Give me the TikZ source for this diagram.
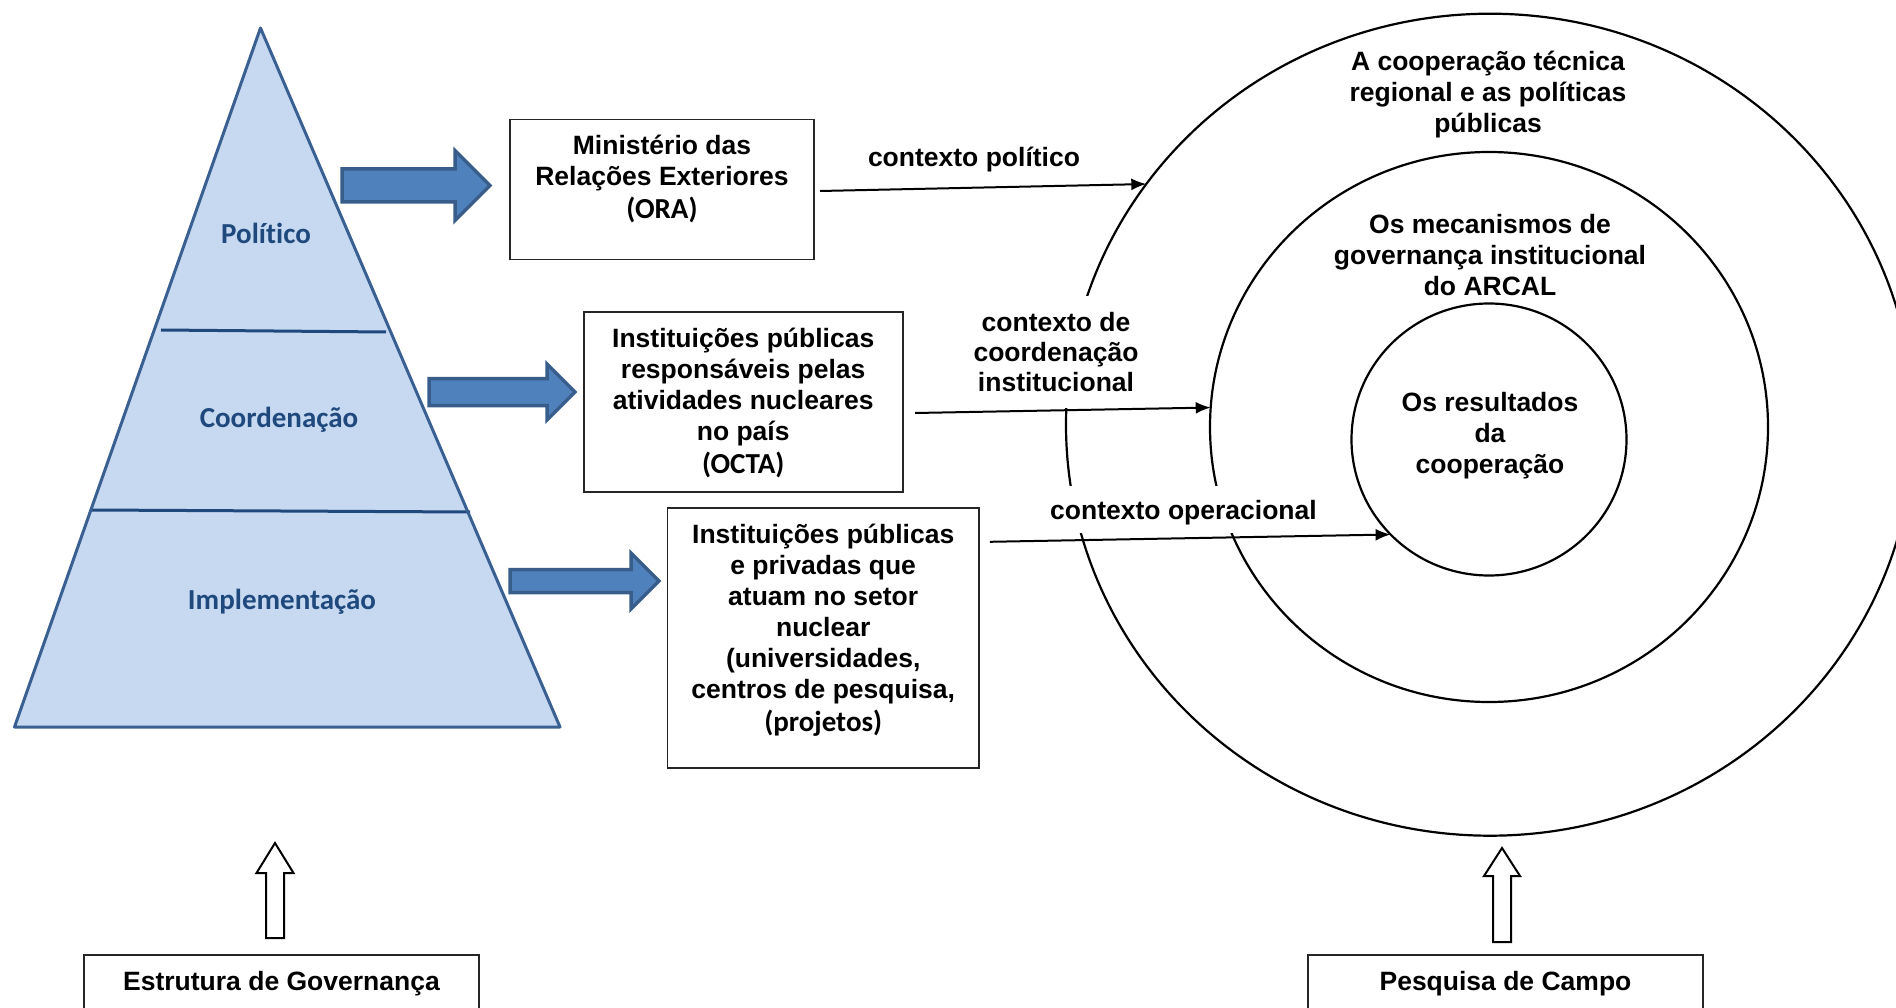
\documentclass[tikz,border=0pt]{standalone}
\usepackage{fontspec}
\setmainfont{Liberation Sans}
\newfontfamily\calibri[Ligatures={NoCommon}]{Carlito}
\usetikzlibrary{shapes.geometric,arrows.meta}

\definecolor{pyrfill}{RGB}{198,217,241}
\definecolor{pyrline}{RGB}{58,95,145}
\definecolor{pyrsplit}{RGB}{31,73,125}
\definecolor{lvltext}{RGB}{31,73,125}
\definecolor{arrfill}{RGB}{79,129,189}
\definecolor{arrline}{RGB}{56,93,138}

\begin{document}
\begin{tikzpicture}[x=1pt,y=-1pt,
  frame/.style={draw=black!85, line width=1.6pt, inner sep=0pt, outer sep=0pt},
  txt/.style={font=\fontsize{26.5}{31}\selectfont\bfseries, align=center, inner sep=0pt},
  ring/.style={ellipse, draw, line width=2.2pt, inner sep=0pt, outer sep=0pt},
  conn/.style={-{Latex[length=15pt,width=12pt]}, line width=2pt},
  mask/.style={txt, fill=white, inner xsep=5pt},
  level/.style={font=\calibri\fontsize{29}{31}\selectfont\bfseries, text=lvltext, inner sep=0pt},
  blockarrow/.style={fill=arrfill, draw=arrline, line width=3.5pt, line join=miter},
  hollow/.style={draw, fill=white, line width=2pt, line join=miter}]

\useasboundingbox (0,0) rectangle (1896,1008);
\clip (0,0) rectangle (1896,1008);

% ---- governance pyramid ----
\coordinate (apex) at (260.5,28);
\coordinate (bl) at (14.5,727);
\coordinate (br) at (560,727);
\fill[pyrfill] (apex) -- (bl) -- (br) -- cycle;
\draw[pyrsplit, line width=3pt] (161,330) -- (386,332);
\draw[pyrsplit, line width=3pt] (92,510) -- (470,512);
\draw[pyrline, line width=3pt, line join=round] (apex) -- (bl) -- (br) -- cycle;

\node[level] (lvlpol) at (266,233) {Político};
\node[level] (lvlcoo) at (279,420) {Coordenação};
\node[level] (lvlimp) at (282,602) {Implementação};

% ---- block arrows from the levels ----
\draw[blockarrow] (342,169) -- (455,169) -- (455,150.5) -- (490,185.5) -- (455,220.5)
  -- (455,202) -- (342,202) -- cycle;
\draw[blockarrow] (429,378.5) -- (547,378.5) -- (547,364) -- (575,392) -- (547,420)
  -- (547,405.5) -- (429,405.5) -- cycle;
\draw[blockarrow] (510,569.5) -- (631,569.5) -- (631,553) -- (659,581) -- (631,609)
  -- (631,592.5) -- (510,592.5) -- cycle;

% ---- institution boxes ----
\node[frame, minimum width=304pt, minimum height=140pt] (box1) at (662,189.5) {};
\node[txt] (t1) at (662,179) {Ministério das\\Relações Exteriores\\[2pt]{\calibri\fontsize{29}{31}\selectfont (ORA)}};

\node[frame, minimum width=319pt, minimum height=180pt] (box2) at (743.2,402) {};
\node[txt] (t2) at (743.2,403) {Instituições públicas\\responsáveis pelas\\atividades nucleares\\no país\\[2pt]{\calibri\fontsize{29}{31}\selectfont (OCTA)}};

\node[frame, minimum width=311.5pt, minimum height=260pt] (box3) at (823.2,638) {};
\node[txt] (t3) at (823.2,630) {Instituições públicas\\e privadas que\\atuam no setor\\nuclear\\(universidades,\\centros de pesquisa,\\[2pt]{\calibri\fontsize{29}{31}\selectfont (projetos)}};

% ---- concentric analysis rings ----
\node[ring, minimum width=848pt, minimum height=822pt] (outer) at (1490,424.7) {};
\node[ring, minimum width=558pt, minimum height=550pt] (middle) at (1489,427) {};
\node[ring, minimum width=275pt, minimum height=272pt] (inner) at (1489,439.5) {};

\node[txt] (ringtxtA) at (1488,94.5) {A cooperação técnica\\regional e as políticas\\públicas};
\node[txt] (ringtxtB) at (1490,255.5) {Os mecanismos de\\governança institucional\\do ARCAL};
\node[txt] (ringtxtC) at (1490,435.5) {Os resultados\\da\\cooperação};

% ---- context labels (white backing breaks the rings) ----
\node[txt] (lblpol) at (974,160) {contexto político};
\node[mask, inner ysep=16.5pt, font=\fontsize{26.5}{30}\selectfont\bfseries] (lblcoo) at (1056,352) {contexto de\\coordenação\\institucional};
\node[mask, inner ysep=14pt, text depth=0pt] (lblope) at (1183.5,509.5) {contexto operacional};

% ---- context connectors ----
\draw[conn] ([xshift=6pt,yshift=-1.5pt]box1.east) -- (outer.145.4);
\draw[conn] ([xshift=12.3pt,yshift=-11pt]box2.east) -- (middle.176.2);
\draw[conn] ([xshift=11pt,yshift=-33.8pt]box3.north east) -- (inner.224.2);

% ---- bottom boxes and hollow arrows ----
\node[frame, minimum width=395pt, minimum height=85pt] (govbox) at (281.5,997.5) {};
\node[txt] (govtxt) at (281.5,983.3) {Estrutura de Governança};
\node[frame, minimum width=395pt, minimum height=85pt] (campbox) at (1505.5,997.5) {};
\node[txt] (camptxt) at (1505.5,983.3) {Pesquisa de Campo};

\draw[hollow] (266,938) -- (266,873) -- (256.5,873) -- (275,843) -- (293.5,873)
  -- (284,873) -- (284,938) -- cycle;
\draw[hollow] (1493,942) -- (1493,876) -- (1484,876) -- (1502,848) -- (1520,876)
  -- (1511,876) -- (1511,942) -- cycle;
\end{tikzpicture}
\end{document}
